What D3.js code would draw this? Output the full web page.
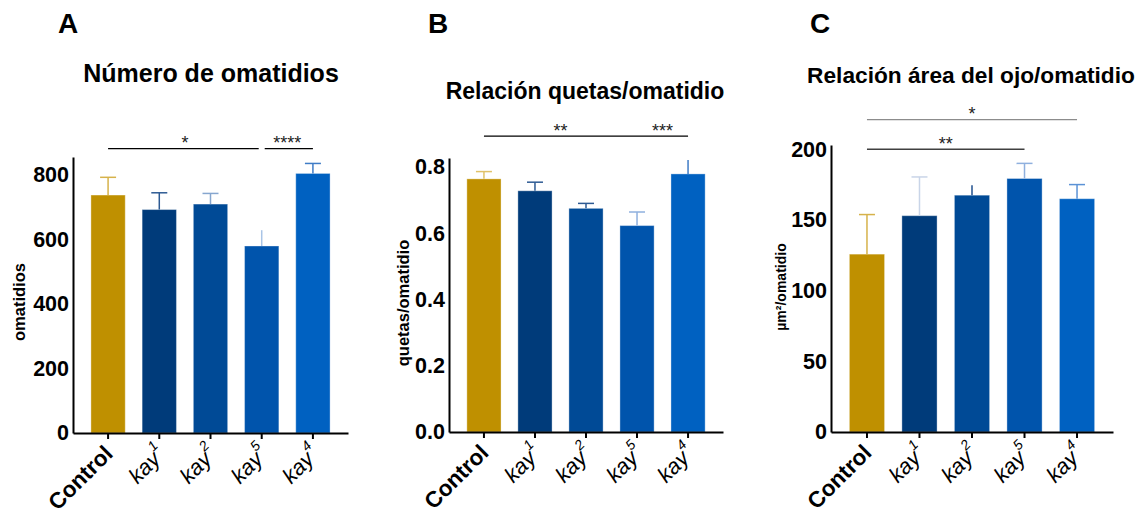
<!DOCTYPE html>
<html>
<head>
<meta charset="utf-8">
<script src="https://cdn.jsdelivr.net/npm/d3@7"></script>
<style>
  body { margin: 0; background: #fff; }
  svg { font-family: "Liberation Sans", Arial, sans-serif; }
</style>
</head>
<body>
<div id="canvas"></div>
<script>
// groups (name + superscript)
const groups = ["Control", "kay1", "kay2", "kay5", "kay4"];
const groupBase = ["Control", "kay", "kay", "kay", "kay"];
const groupSup = ["", "1", "2", "5", "4"];

// A: numero de omatidios (mean, sd)
const omatMean = [738, 693, 710, 580, 805];
const omatSD = [55, 52, 33, 49, 31];
const omatTicks = [0, 200, 400, 600, 800];

// B: quetas / omatidio
const quetMean = [0.764, 0.728, 0.675, 0.623, 0.779];
const quetSD = [0.022, 0.026, 0.015, 0.041, 0.042];
const quetTicks = [0, 0.2, 0.4, 0.6, 0.8];

// C: area del ojo / omatidio
const areaMean = [125.8, 153, 167.5, 179.3, 165];
const areaSD = [28, 27.4, 7, 10.7, 10];
const areaTicks = [0, 50, 100, 150, 200];

// significance brackets
const sigA = [
    {from: "Control", to: "kay5", y: 882, labels: [{text: "*", at: 1.5}]},
    {from: "kay5", to: "kay4", y: 882, labels: [{text: "****", at: 3.5}]}
];
const sigB = [
    {from: "Control", to: "kay4", y: 0.893, labels: [{text: "**", at: 1.5}, {text: "***", at: 3.5}]}
];
const sigC = [
    {from: "Control", to: "kay4", y: 221, labels: [{text: "*", at: 2}], color: "#8c8c8c"},
    {from: "Control", to: "kay5", y: 200, labels: [{text: "**", at: 1.5}], color: "#404040"}
];

// colours
const barColors = ["#bf9000", "#003b7a", "#004a96", "#0054ac", "#0061c1"];

const width = 1143;
const height = 517;

const svg = d3.select("#canvas")
    .append("svg")
    .attr("width", width)
    .attr("height", height)
    .attr("viewBox", [0, 0, width, height]);

const panels = [
    {letter: "A", letterX: 58, title: "Número de omatidios", titleX: 211, titleY: 82, titleSize: 25,
     mean: omatMean, sd: omatSD, ticks: omatTicks, fmt: d3.format("d"), yMax: 856,
     xr: [73, 348], yr: [433, 157], ylab: "omatidios", ylabX: 25, ylabY: 302, ylabSize: 16.5,
     sig: sigA, errColors: ["#d6b24a", "#2d5a93", "#86a6cf", "#a9c4e6", "#3f7cc6"], caps: [1, 1, 1, 0, 1]},
    {letter: "B", letterX: 428, title: "Relación quetas/omatidio", titleX: 585, titleY: 99, titleSize: 23,
     mean: quetMean, sd: quetSD, ticks: quetTicks, fmt: d3.format(".1f"), yMax: 0.827,
     xr: [449, 723], yr: [432, 158], ylab: "quetas/omatidio", ylabX: 409, ylabY: 303, ylabSize: 16.5,
     sig: sigB, errColors: ["#e0c26a", "#2d5a93", "#2d5a93", "#8fb0de", "#3f7cc6"], caps: [1, 1, 1, 1, 0]},
    {letter: "C", letterX: 810, title: "Relación área del ojo/omatidio", titleX: 971, titleY: 83, titleSize: 22.7,
     mean: areaMean, sd: areaSD, ticks: areaTicks, fmt: d3.format("d"), yMax: 203,
     xr: [831, 1113], yr: [432, 145], ylab: "µm²/omatidio", ylabX: 786, ylabY: 287, ylabSize: 14,
     sig: sigC, errColors: ["#d6b24a", "#c9d5e8", "#1f4f8e", "#8fb0de", "#5b92d6"], caps: [1, 1, 0, 1, 1]}
];

panels.forEach(p => {
    const g = svg.append("g");

    const x = d3.scaleBand()
        .domain(groups)
        .range(p.xr)
        .paddingInner(0.33)
        .paddingOuter(0.35);

    const y = d3.scaleLinear()
        .domain([0, p.yMax])
        .range(p.yr);

    // panel letter + title
    g.append("text")
        .attr("x", p.letterX)
        .attr("y", 33)
        .attr("font-size", 28)
        .attr("font-weight", "bold")
        .text(p.letter);

    g.append("text")
        .attr("x", p.titleX)
        .attr("y", p.titleY)
        .attr("text-anchor", "middle")
        .attr("font-size", p.titleSize)
        .attr("font-weight", "bold")
        .text(p.title);

    // bars
    g.append("g")
        .selectAll("rect")
        .data(groups)
        .join("rect")
            .attr("x", d => x(d))
            .attr("y", (d, i) => y(p.mean[i]))
            .attr("width", x.bandwidth())
            .attr("height", (d, i) => y(0) - y(p.mean[i]))
            .attr("fill", (d, i) => barColors[i])
            .attr("stroke", "#ffffff")
            .attr("stroke-opacity", 0.35)
            .attr("stroke-width", 1);

    // error bars (upper only)
    const cx = d => x(d) + x.bandwidth() / 2;
    const err = g.append("g").attr("stroke-width", 1.5);
    err.selectAll("line.v")
        .data(groups)
        .join("line")
            .attr("class", "v")
            .attr("x1", cx).attr("x2", cx)
            .attr("y1", (d, i) => y(p.mean[i]))
            .attr("y2", (d, i) => y(p.mean[i] + p.sd[i]))
            .attr("stroke", (d, i) => p.errColors[i]);
    err.selectAll("line.cap")
        .data(groups.filter((d, i) => p.caps[i]))
        .join("line")
            .attr("class", "cap")
            .attr("x1", d => cx(d) - 8).attr("x2", d => cx(d) + 8)
            .attr("y1", d => y(p.mean[groups.indexOf(d)] + p.sd[groups.indexOf(d)]))
            .attr("y2", d => y(p.mean[groups.indexOf(d)] + p.sd[groups.indexOf(d)]))
            .attr("stroke", d => p.errColors[groups.indexOf(d)]);

    // y axis
    g.append("g")
        .attr("transform", `translate(${p.xr[0]},0)`)
        .call(d3.axisLeft(y).tickValues(p.ticks).tickFormat(p.fmt).tickSizeInner(0).tickSizeOuter(0).tickPadding(4))
        .call(a => a.select(".domain").attr("stroke-width", 2))
        .call(a => a.selectAll("text")
            .attr("font-family", "Liberation Sans, Arial, sans-serif")
            .attr("font-size", 21.5)
            .attr("font-weight", "bold")
            .attr("fill", "#000"));

    // x axis
    g.append("g")
        .attr("transform", `translate(0,${p.yr[0]})`)
        .call(d3.axisBottom(x).tickSizeInner(6).tickSizeOuter(0).tickFormat(""))
        .call(a => a.select(".domain").attr("stroke-width", 2))
        .call(a => a.selectAll(".tick line").attr("stroke-width", 2));

    // x labels (rotated)
    const xl = g.append("g")
        .selectAll("text")
        .data(groups)
        .join("text")
            .attr("transform", (d, i) => groupSup[i] === ""
                ? `translate(${cx(d) + 6},${p.yr[0] + 22}) rotate(-45)`
                : `translate(${cx(d) + 8},${p.yr[0] + 22}) rotate(-45)`)
            .attr("text-anchor", "end")
            .attr("font-size", 22);
    xl.each(function(d, i) {
        const t = d3.select(this);
        if (groupSup[i] === "") {
            t.attr("font-weight", "bold").attr("font-size", 22.5).text(groupBase[i]);
        } else {
            t.append("tspan").attr("font-style", "italic").text(groupBase[i]);
            t.append("tspan")
                .attr("font-style", "italic")
                .attr("font-size", 14)
                .attr("dy", -12)
                .text(groupSup[i]);
        }
    });

    // y axis label
    g.append("text")
        .attr("transform", `translate(${p.ylabX},${p.ylabY}) rotate(-90)`)
        .attr("text-anchor", "middle")
        .attr("font-size", p.ylabSize)
        .attr("font-weight", "bold")
        .text(p.ylab);

    // significance brackets
    const pos = k => x(groups[0]) + x.step() * k + x.bandwidth() / 2;
    p.sig.forEach(s => {
        const yy = y(s.y);
        const c = s.color || "#000";
        const pad = (s.from === "kay5") ? 3 : 0;
        const padEnd = (s.to === "kay5" && p.letter === "A") ? 3 : 0;
        g.append("line")
            .attr("x1", cx(s.from) + pad)
            .attr("x2", cx(s.to) - padEnd)
            .attr("y1", yy).attr("y2", yy)
            .attr("stroke", c)
            .attr("stroke-width", 1.3);
        s.labels.forEach(l => {
            g.append("text")
                .attr("x", pos(l.at))
                .attr("y", yy + 0.5)
                .attr("text-anchor", "middle")
                .attr("font-size", 18)
                .attr("fill", "#222")
                .text(l.text);
        });
    });
});
</script>
</body>
</html>
